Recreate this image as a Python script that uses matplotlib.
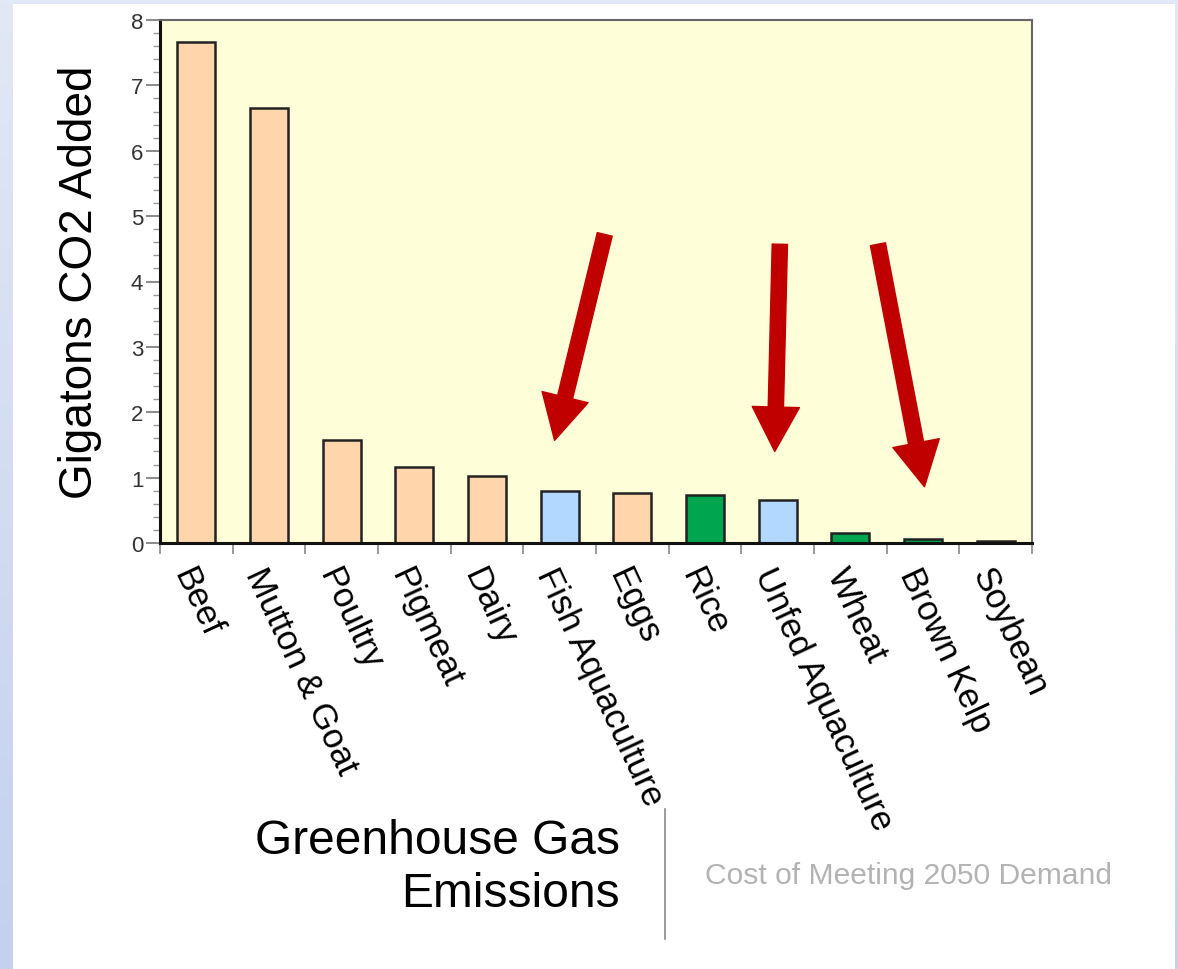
import numpy as np
import matplotlib
matplotlib.use("Agg")
from matplotlib import pyplot as plt
from matplotlib.patches import Rectangle
from matplotlib.ticker import MultipleLocator, FixedLocator

plt.rcParams['font.family'] = ['Liberation Sans', 'DejaVu Sans']

# data
foods = ["Beef", "Mutton & Goat", "Poultry", "Pigmeat", "Dairy", "Fish Aquaculture",
         "Eggs", "Rice", "Unfed Aquaculture", "Wheat", "Brown Kelp", "Soybean"]
gigatons = [7.66, 6.66, 1.57, 1.16, 1.02, 0.80, 0.76, 0.73, 0.66, 0.15, 0.06, 0.03]
groups = ["animal", "animal", "animal", "animal", "animal", "aqua",
          "animal", "plant", "aqua", "plant", "plant", "plant"]
group_colors = {"animal": "#FFD5AB", "aqua": "#B3D8FF", "plant": "#00A550"}

# arrows: (tail x, tail y) -> (tip x, tip y) in data units
arrow_tails = [(5.62, 4.72), (8.03, 4.57), (9.38, 4.57)]
arrow_tips = [(4.93, 1.57), (7.96, 1.40), (10.02, 0.86)]

W, H = 1178, 970
fig = plt.figure(figsize=(W / 100, H / 100), dpi=100)

# slide background: blue gradient with white panel
bg = fig.add_axes([0, 0, 1, 1], zorder=-1)
grad = np.linspace(0, 1, 256).reshape(-1, 1)
cmap = matplotlib.colors.LinearSegmentedColormap.from_list("bg", ["#E2E8F5", "#C3D1EE"])
bg.imshow(grad, aspect="auto", cmap=cmap, extent=[0, 1, 0, 1], origin="upper")
bg.add_patch(Rectangle((13 / W, 0), (1175 - 13) / W, 1 - 5 / H, facecolor="white", edgecolor="none"))
bg.plot([665 / W, 665 / W], [1 - 810 / H, 1 - 940 / H], color="#8A8A8A", lw=1.2)
bg.set_xlim(0, 1)
bg.set_ylim(0, 1)
bg.axis("off")

ax = fig.add_axes([160 / W, 1 - 544 / H, (1032 - 160) / W, (544 - 21) / H])
ax.set_facecolor("#FEFED9")

x = np.arange(len(foods))
ax.bar(x, gigatons, width=0.52, color=[group_colors[g] for g in groups],
       edgecolor="#222222", linewidth=1.8, zorder=2)

for (tx, ty), (hx, hy) in zip(arrow_tails, arrow_tips):
    ax.annotate("", xy=(hx, hy), xytext=(tx, ty),
                arrowprops=dict(arrowstyle="simple,head_length=32,head_width=34,tail_width=11",
                                mutation_scale=1, color="#C00000", shrinkA=0, shrinkB=0),
                zorder=3)

ax.set_xlim(-0.5, len(foods) - 0.5)
ax.set_ylim(0, 8)

ax.yaxis.set_major_locator(MultipleLocator(1))
ax.yaxis.set_minor_locator(MultipleLocator(0.2))
ax.tick_params(axis="y", which="major", length=10, width=1.2, color="#777777",
               labelsize=16, labelcolor="#333333", pad=2)
ax.tick_params(axis="y", which="minor", length=5, width=1, color="#999999")

ax.set_xticks(x)
ax.set_xticklabels(foods, rotation=-65, ha="left", va="top", rotation_mode="anchor")
ax.xaxis.set_minor_locator(FixedLocator(np.arange(len(foods) + 1) - 0.5))
ax.tick_params(axis="x", which="major", length=0, labelsize=25, pad=14)
ax.tick_params(axis="x", which="minor", length=8, width=1.2, color="#888888")

for side in ["left", "bottom"]:
    ax.spines[side].set_linewidth(2.2)
    ax.spines[side].set_color("#111111")
for side in ["top", "right"]:
    ax.spines[side].set_linewidth(1.5)
    ax.spines[side].set_color("#666666")

ax.set_ylabel("Gigatons CO2 Added", fontsize=33, va="center")
ax.yaxis.set_label_coords((80 - 160) / 872, 0.5)

fig.text(620 / W, 1 - 868 / H, "Greenhouse Gas\nEmissions", ha="right", va="center",
         multialignment="right", fontsize=34.5, linespacing=1.23)
fig.text(705 / W, 1 - 876 / H, "Cost of Meeting 2050 Demand", ha="left", va="center",
         fontsize=21.6, color="#B3B3B3")

fig.savefig("out.png", dpi=100)
